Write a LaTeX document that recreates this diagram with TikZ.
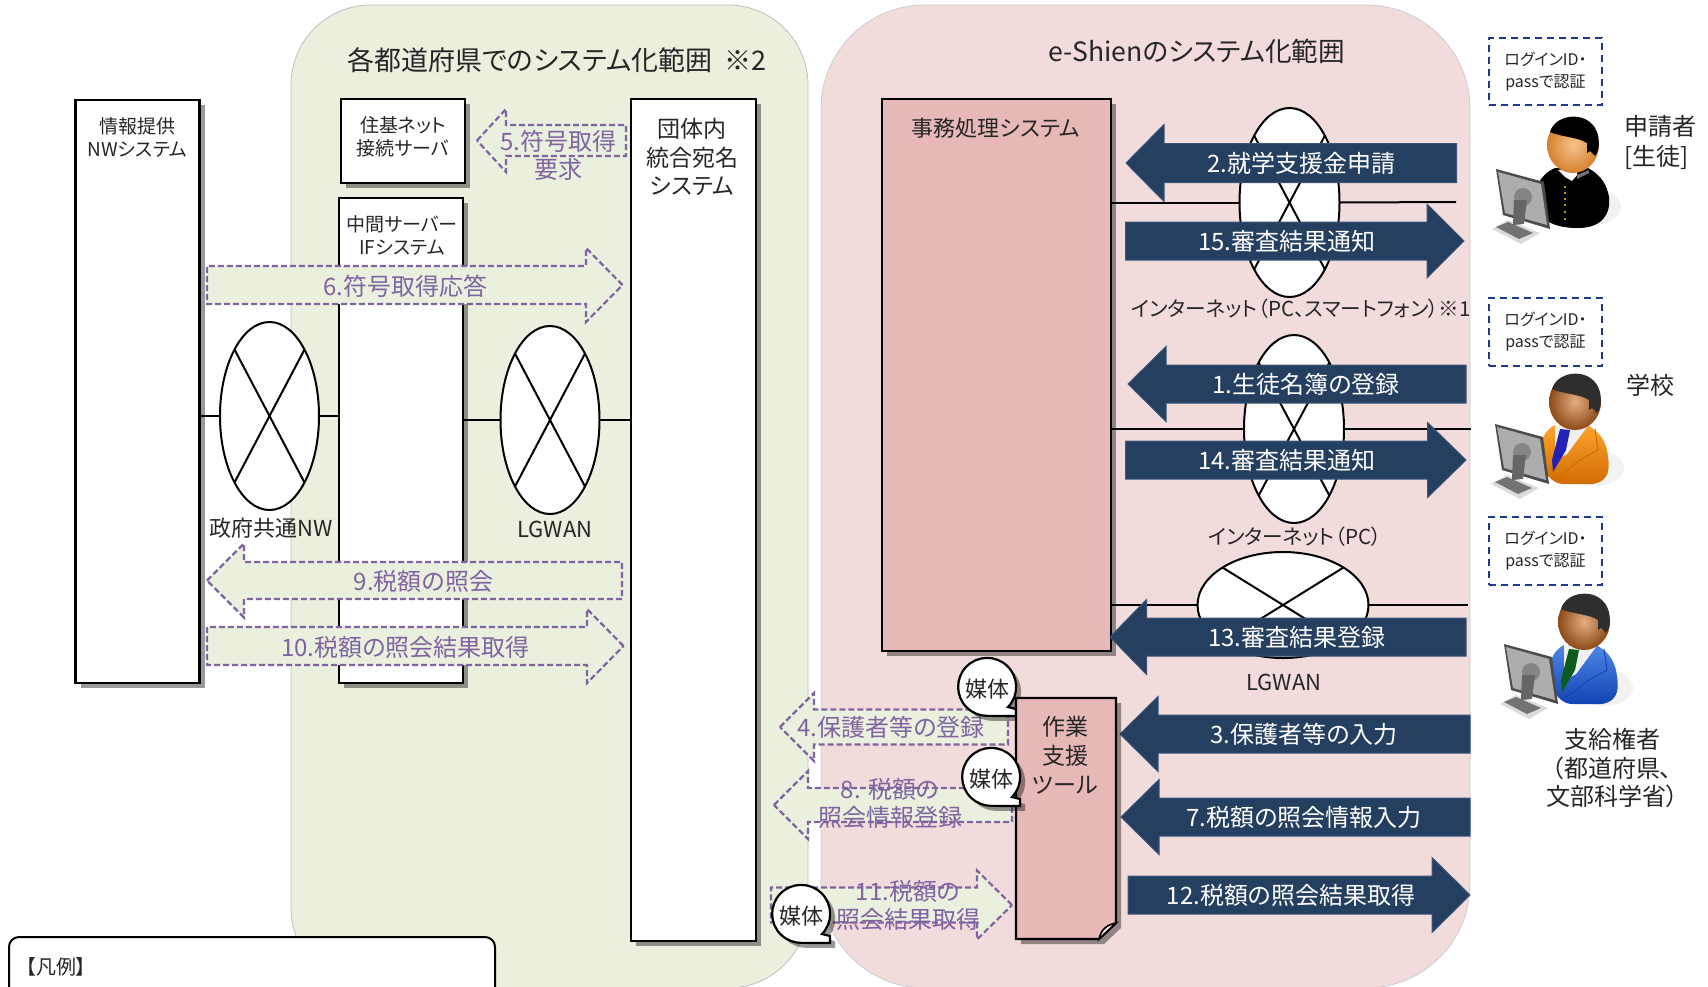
\documentclass[tikz,border=0pt]{standalone}
\usepackage{fontspec}
\setmainfont{Noto Sans CJK JP}[RawFeature=+palt]
\usetikzlibrary{shapes.geometric,shadows}
\definecolor{panelgreen}{HTML}{EAEFDE}
\definecolor{panelpink}{HTML}{F2DCDB}
\definecolor{boxpink}{HTML}{E6B8B7}
\definecolor{navy}{HTML}{243F60}
\definecolor{navyedge}{HTML}{3A5578}
\definecolor{purp}{HTML}{8064A2}
\definecolor{ink}{HTML}{262626}
\definecolor{authblue}{HTML}{1F3A8A}
\definecolor{skinlight}{HTML}{F6C48E}
\definecolor{skinorange}{HTML}{D5812F}
\definecolor{skintan}{HTML}{E5AE84}
\definecolor{skinbrown}{HTML}{8C4A16}
\definecolor{suitoa}{HTML}{FFA32E}
\definecolor{suitob}{HTML}{D06C04}
\definecolor{suitba}{HTML}{4F86E6}
\definecolor{suitbb}{HTML}{1244B4}
\definecolor{tieblue}{HTML}{2222B8}
\definecolor{tiegreen}{HTML}{0B5A1E}
\newcommand\tsize[2]{\fontsize{#1pt}{#2pt}\selectfont}
\tikzset{
  boxshadow/.style={drop shadow={shadow xshift=2.5pt,shadow yshift=-2.5pt,fill=black,opacity=.4}},
  sysbox/.style={draw=black,line width=1.1pt,fill=white,boxshadow,inner sep=0,outer sep=0},
  net/.style={ellipse,draw=black,line width=1pt,fill=white,inner sep=0,outer sep=0},
  netline/.style={draw=black,line width=1pt},
  lbl/.style={inner sep=0,outer sep=0,align=center,text=ink},
  navyarrow/.style={fill=navy,draw=navyedge,line width=.5pt},
  navytext/.style={inner sep=0,outer sep=0,text=white,font=\tsize{12}{14}},
  dasharrow/.style={fill=panelgreen,draw=purp,line width=1.1pt,dash pattern=on 3pt off 1.5pt},
  dashtext/.style={inner sep=0,outer sep=0,align=center,text=purp,font=\tsize{12}{14}},
  authbox/.style={draw=authblue,line width=1pt,dash pattern=on 3.5pt off 2.5pt,inner sep=0,outer sep=0,align=center,text=ink,font=\tsize{8}{11}},
  mediashape/.style={draw=black,line width=1.1pt,fill=white,boxshadow},
  mediatext/.style={inner sep=0,outer sep=0,text=ink,font=\tsize{11}{13}},
}
\newcommand\arrowshape[7][navyarrow]{\draw[#1] (#2,#5) -- (#3,#5-#7) -- (#3,#5-#6) -- (#4,#5-#6) -- (#4,#5+#6) -- (#3,#5+#6) -- (#3,#5+#7) -- cycle;}
% speech bubble: round body with a small square tail at the lower right
\newcommand\mediabubble[3]{%
  \draw[mediashape] (#2+21,#3+20) arc[start angle=-44,end angle=270,radius=14.5pt] -- (#2+29,#3+29) -- (#2+29,#3+22) -- cycle;
  \node[mediatext] (#1) at (#2,#3+2) {媒体};}
\newcommand\monitorfig{%
  \fill[black!14] (-84,82) -- (-68,73) -- (-36,86) -- (-55,97) -- cycle;
  \fill[black!55] (-80,80) -- (-68,75) -- (-43,86) -- (-57,92) -- cycle;
  \fill[black!70] (-80,22) -- (-32,35) -- (-26,82) -- (-73,68) -- cycle;
  \fill[black!32] (-78,25) -- (-35,37) -- (-29,78) -- (-71,66) -- cycle;
  \fill[black!48] (-53,50) circle (9);
  \fill[black!60] (-62,53) -- (-49,53) -- (-52,77) -- (-63,78) -- cycle;
}
\newcommand\headfig[3]{%
  \shade[inner color=#1,outer color=#2] (0,0) ellipse (26 and 28);
  \fill[#3] (-23,-13) .. controls (-18,-32) and (18,-36) .. (25,-10) .. controls (27,2) and (25,8) .. (22,11) -- (17,6) -- (14,8) -- (14,-2) .. controls (5,-8) and (-12,-8) .. (-23,-13) -- cycle;
}
\newcommand\adultfig[5]{%
\begin{scope}[shift={(#1,#2)}]
  \fill[black!5] (20,66) ellipse (29 and 18);
  \shade[top color=#3,bottom color=#4] (-20,23) .. controls (-34,30) and (-36,45) .. (-33,60) .. controls (-30,75) and (-20,82) .. (-12,82) -- (18,82) .. controls (30,80) and (36,72) .. (33,55) .. controls (32,42) and (26,30) .. (12,23) -- cycle;
  \fill[black!6] (-20,23) -- (12,25) -- (-8,52) -- (-20,58) -- cycle;
  \fill[#5] (-15,27) -- (-5,28) -- (-9,48) -- (-22,70) -- (-23,58) -- cycle;
  \draw[#4,line width=.5pt] (20,27) -- (23,48) -- (5,58) -- (-20,77);
  \headfig{skintan}{skinbrown}{black!82}
  \monitorfig
\end{scope}}
\begin{document}
\begin{tikzpicture}[x=0.5pt,y=-0.5pt]
\useasboundingbox (0,0) rectangle (1708,986);
\clip (0,0) rectangle (1708,986);
\fill[white] (0,0) rectangle (1708,986);
% panels
\draw[fill=panelgreen,draw=black!25,line width=.4pt,rounded corners=40pt] (291,5) rectangle (808,988);
\draw[fill=panelpink,draw=black!20,line width=.4pt,rounded corners=52pt] (821,5) rectangle (1470,988);
\node[lbl,font=\tsize{13.5}{15}] (titlea) at (557,60) {各都道府県でのシステム化範囲\ \ ※2};
\node[lbl,font=\tsize{13.3}{15}] (titleb) at (1197,51) {e-Shienのシステム化範囲};
% boxes
\node[sysbox,minimum width=62pt,minimum height=291.5pt] (info) at (137.5,391.5) {};
\node[lbl,font=\tsize{9.5}{11.5}] (infot) at (137.5,137.5) {情報提供\\NWシステム};
\node[sysbox,minimum width=62pt,minimum height=42pt] (juki) at (403,141) {};
\node[lbl,font=\tsize{9.5}{11.5}] (jukit) at (403,136.5) {住基ネット\\接続サーバ};
\node[sysbox,minimum width=62pt,minimum height=242.5pt] (mid) at (401,440.5) {};
\node[lbl,font=\tsize{9.5}{11.5}] (midt) at (402,235.5) {中間サーバー\\IFシステム};
\node[sysbox,minimum width=62.5pt,minimum height=421pt] (dantai) at (693.5,520) {};
\node[lbl,font=\tsize{11.5}{14.3}] (dantait) at (692,157) {団体内\\統合宛名\\システム};
\node[sysbox,fill=boxpink,minimum width=114.5pt,minimum height=276pt] (jimu) at (996.5,375) {};
\node[lbl,font=\tsize{11}{13}] (jimut) at (996,128) {事務処理システム};
% networks and their lines
\node[net,minimum width=49.5pt,minimum height=94pt] (gov) at (269.5,416) {};
\node[net,minimum width=49.5pt,minimum height=94pt] (lga) at (550,420) {};
\node[net,minimum width=50pt,minimum height=94.5pt] (neta) at (1289.5,202.5) {};
\node[net,minimum width=50pt,minimum height=94pt] (netb) at (1294,429) {};
\node[net,minimum width=85.5pt,minimum height=53pt] (lgb) at (1283,605) {};
\coordinate (netaend) at (1456,202);
\coordinate (netbend) at (1471,429);
\coordinate (lgbend) at (1468,605);
\draw[netline] (info.east |- gov.west) -- (gov.west);
\draw[netline] (gov.east) -- (mid.west |- gov.east);
\draw[netline] (mid.east |- lga.west) -- (lga.west);
\draw[netline] (lga.east) -- (dantai.west |- lga.east);
\draw[netline] (jimu.east |- neta.west) -- (neta.west);
\draw[netline] (neta.east) -- (netaend);
\draw[netline] (jimu.east |- netb.west) -- (netb.west);
\draw[netline] (netb.east) -- (netbend);
\draw[netline] (jimu.east |- lgb.west) -- (lgb.west);
\draw[netline] (lgb.east) -- (lgbend);
\foreach \n in {gov,lga,neta,netb,lgb}{
  \draw[netline] (\n.north west) -- (\n.south east);
  \draw[netline] (\n.north east) -- (\n.south west);
}
\node[lbl,font=\tsize{11}{13}] (govt) at (271.5,528) {政府共通NW};
\node[lbl,font=\tsize{11}{13}] (lgat) at (555,529) {LGWAN};
\node[lbl,font=\tsize{10.3}{12}] (netat) at (1301,309) {インターネット（PC、スマートフォン）※1};
\node[lbl,font=\tsize{10.3}{12}] (netbt) at (1295,537) {インターネット（PC）};
\node[lbl,font=\tsize{11}{13}] (lgbt) at (1284,682) {LGWAN};
% navy arrows
\arrowshape{1126}{1164}{1456.5}{163}{19.5}{38.5}
\node[navytext] (a2) at (1301,163) {2.就学支援金申請};
\arrowshape{1464}{1427}{1125.5}{241}{19}{37}
\node[navytext] (a15) at (1287,241) {15.審査結果通知};
\arrowshape{1128}{1166}{1466}{384}{19}{37.5}
\node[navytext] (a1) at (1306,384) {1.生徒名簿の登録};
\arrowshape{1466}{1427.5}{1125.5}{460}{19}{37.5}
\node[navytext] (a14) at (1287,460) {14.審査結果通知};
\arrowshape{1110}{1146.5}{1466}{637}{19}{37.5}
\node[navytext] (a13) at (1297,637) {13.審査結果登録};
\arrowshape{1120}{1158}{1470}{734}{19}{37.5}
\node[navytext] (a3) at (1304,734) {3.保護者等の入力};
\arrowshape{1121}{1159}{1470}{817}{19}{37.5}
\node[navytext] (a7) at (1304,817) {7.税額の照会情報入力};
\arrowshape{1470}{1432}{1128}{895}{19}{37.5}
\node[navytext] (a12) at (1291,895) {12.税額の照会結果取得};
% dashed arrows
\arrowshape[dasharrow]{477}{506}{626}{140.5}{15.5}{31.5}
\node[dashtext] (a5) at (558,155) {5.符号取得\\要求};
\arrowshape[dasharrow]{622.5}{586}{207}{285}{19}{37}
\node[dashtext] (a6) at (405.5,286) {6.符号取得応答};
\arrowshape[dasharrow]{207}{244}{622}{580.5}{18.5}{37}
\node[dashtext] (a9) at (423.5,581) {9.税額の照会};
\arrowshape[dasharrow]{623.5}{587}{207}{646}{19}{37}
\node[dashtext] (a10) at (405.5,647) {10.税額の照会結果取得};
\arrowshape[dasharrow]{780}{814}{1008}{727}{17.5}{34}
\node[dashtext] (a4) at (891,727) {4.保護者等の登録};
\arrowshape[dasharrow]{774}{808}{1012}{805}{17}{34}
\node[dashtext] (a8) at (890,803) {8. 税額の\\照会情報登録};
\arrowshape[dasharrow]{1012}{977}{771}{905}{17.5}{34.5}
\node[dashtext] (a11) at (908,905.5) {11.税額の\\照会結果取得};
% first bubble lies behind the tool box; the others in front
\mediabubble{m1}{987}{687}
\draw[draw=black,line width=1.1pt,fill=boxpink,boxshadow] (1016,698) -- (1116,698) -- (1116,923) -- (1099,939) -- (1016,939) -- cycle;
\draw[draw=black,line width=.8pt,fill=panelpink!70!white] (1116,923) -- (1099,939) .. controls (1101,930) and (1106,925) .. (1116,923) -- cycle;
\node[lbl,font=\tsize{11.5}{14.5}] (toolt) at (1065,755) {作業\\支援\\ツール};
\mediabubble{m2}{991}{777}
\mediabubble{m3}{801}{914}
% legend
\draw[draw=black,line width=1pt,fill=white,rounded corners=5pt] (9,1010) -- (9,937) -- (495,937) -- (495,1010);
\node[lbl,font=\tsize{10}{12}] (legend) at (56,967) {【凡例】};
% authentication boxes
\node[authbox,minimum width=56.5pt,minimum height=33.5pt] (auth1) at (1545.5,71.5) {ログインID・\\passで認証};
\node[authbox,minimum width=56.5pt,minimum height=34pt] (auth2) at (1545.5,332) {ログインID・\\passで認証};
\node[authbox,minimum width=56.5pt,minimum height=34pt] (auth3) at (1545.5,551) {ログインID・\\passで認証};
% actors
\begin{scope}[shift={(1573,145)}]
  \fill[black!5] (20,62) ellipse (28 and 18);
  \fill[black] (-18,23) .. controls (-34,30) and (-40,45) .. (-37,60) .. controls (-32,78) and (-15,83) .. (5,83) .. controls (28,83) and (38,70) .. (36,52) .. controls (34,40) and (28,30) .. (15,23) -- cycle;
  \fill[white] (-15,25) -- (-8,32) -- (-1,36) -- (4,30) -- (4,26) -- cycle;
  \fill[black!55] (4,30) -- (16,25) -- (16,28) -- (4,34) -- cycle;
  \foreach \yy in {42,48,54,60,67,74}{\fill[yellow!70!orange] (-8,\yy) circle (1.2);}
  \headfig{skinlight}{skinorange}{black}
  \begin{scope}[shift={(3,2)}]\monitorfig\end{scope}
\end{scope}
\adultfig{1575}{402}{suitoa}{suitob}{tieblue}
\adultfig{1584}{622}{suitba}{suitbb}{tiegreen}
\node[lbl,align=left,font=\tsize{12}{15}] (actora) at (1660,142) {申請者\\{[}生徒{]}};
\node[lbl,font=\tsize{12}{14}] (actorb) at (1650,385) {学校};
\node[lbl,font=\tsize{12}{14.3}] (actorc) at (1612,768) {支給権者\\（都道府県、\\文部科学省）};
\end{tikzpicture}
\end{document}
